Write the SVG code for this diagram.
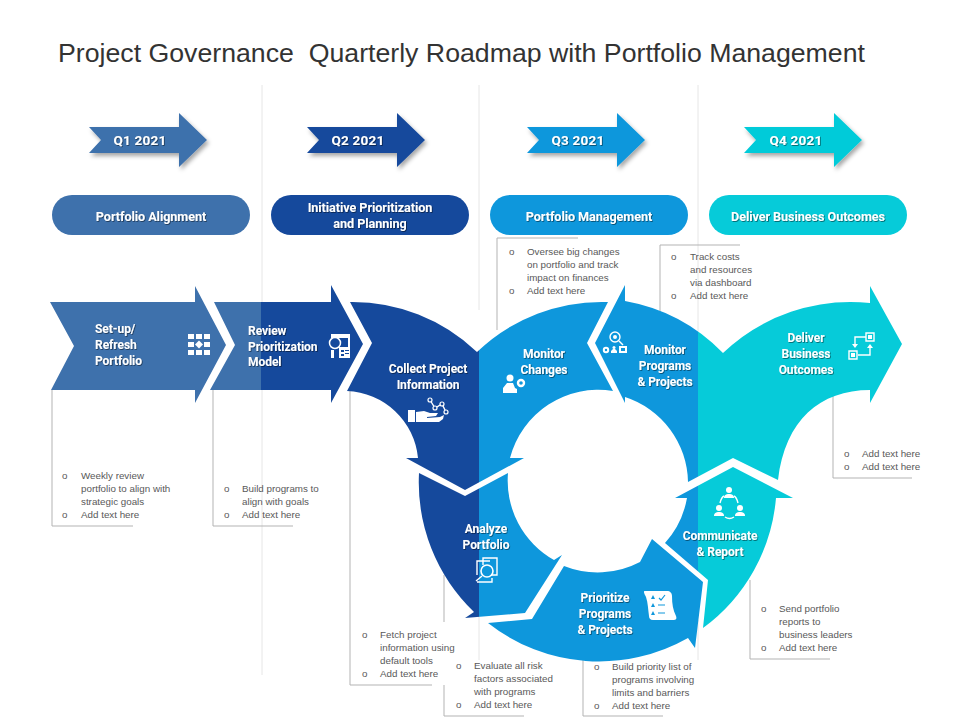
<svg xmlns="http://www.w3.org/2000/svg" width="960" height="720" viewBox="0 0 960 720">
<style>
.title{font:26.7px "Liberation Sans",Arial,sans-serif;fill:#333;white-space:pre}
.lb{font:bold 12px "Roboto","Liberation Sans",sans-serif;fill:#fff;filter:url(#ts);letter-spacing:-.05px}
.m{text-anchor:middle}
.q{font-size:13.5px;letter-spacing:.2px}
.p{font-size:12.6px}
.b{font:9.8px "Liberation Sans",Arial,sans-serif;fill:#595959}
.g{stroke:#b3b3b3;stroke-width:1;fill:none}
.v{stroke:#e6e6e6;stroke-width:1;fill:none}
.w{fill:#fff}
.wl{fill:none;stroke:#fff;stroke-width:1.4}
</style>
<defs>
<filter id="ts" x="-10%" y="-20%" width="120%" height="150%"><feDropShadow dx=".8" dy=".8" stdDeviation=".5" flood-color="#000" flood-opacity=".55"/></filter>
<filter id="as" x="-10%" y="-15%" width="125%" height="135%"><feDropShadow dx="2" dy="3" stdDeviation="2" flood-color="#000" flood-opacity=".35"/></filter>
<linearGradient id="s261" gradientUnits="userSpaceOnUse" x1="0" x2="960" y1="0" y2="0"><stop offset=".2719" stop-color="#3E71AC"/><stop offset=".2719" stop-color="#15499C"/></linearGradient>
<linearGradient id="s479" gradientUnits="userSpaceOnUse" x1="0" x2="960" y1="0" y2="0"><stop offset=".499" stop-color="#15499C"/><stop offset=".499" stop-color="#0E97DC"/></linearGradient>
<linearGradient id="s698" gradientUnits="userSpaceOnUse" x1="0" x2="960" y1="0" y2="0"><stop offset=".727" stop-color="#0E97DC"/><stop offset=".727" stop-color="#06CBD9"/></linearGradient>
<path id="qa" d="M0 14 L12 27 L0 40 L90 40 L90 54 L118 27 L90 0 L90 14 Z"/>
</defs>
<rect width="960" height="720" fill="#fff"/>
<text class="title" x="58" y="62">Project Governance  Quarterly Roadmap with Portfolio Management</text>

<g id="connectors">
<path class="v" d="M262 85V675M479 85V310M479 612V660M698 85V360M698 620V660"/>
<path class="g" d="M52 390V526H133"/>
<path class="g" d="M213 390V526H293"/>
<path class="g" d="M350 388V685H432"/>
<path class="g" d="M444 575V622M444 685V716H524"/>
<path class="g" d="M583 660V716H663"/>
<path class="g" d="M750 580V659H830"/>
<path class="g" d="M833 392V478H912"/>
<path class="g" d="M497 330V238H578"/>
<path class="g" d="M660 312V245H740"/>
</g>

<g id="q1"><use href="#qa" x="89" y="113" fill="#3E71AC" filter="url(#as)"/><text class="lb q m" x="140" y="145">Q1 2021</text></g>
<g id="q2"><use href="#qa" x="307" y="113" fill="#15499C" filter="url(#as)"/><text class="lb q m" x="358" y="145">Q2 2021</text></g>
<g id="q3"><use href="#qa" x="527" y="113" fill="#0E97DC" filter="url(#as)"/><text class="lb q m" x="578" y="145">Q3 2021</text></g>
<g id="q4"><use href="#qa" x="744" y="113" fill="#06CBD9" filter="url(#as)"/><text class="lb q m" x="796" y="145">Q4 2021</text></g>

<g id="pill1"><rect x="52" y="195" width="198" height="40" rx="20" fill="#3E71AC"/><text class="lb p m" x="151" y="221">Portfolio Alignment</text></g>
<g id="pill2"><rect x="271" y="195" width="198" height="40" rx="20" fill="#15499C"/><text class="lb p m" x="370" y="212">Initiative Prioritization</text><text class="lb p m" x="370" y="228">and Planning</text></g>
<g id="pill3"><rect x="490" y="195" width="198" height="40" rx="20" fill="#0E97DC"/><text class="lb p m" x="589" y="221">Portfolio Management</text></g>
<g id="pill4"><rect x="709" y="195" width="198" height="40" rx="20" fill="#06CBD9"/><text class="lb p m" x="808" y="221">Deliver Business Outcomes</text></g>

<g id="setup">
<path fill="#3E71AC" d="M50 302H195V286L226 345L195 403V390H51L74 346Z"/>
<text class="lb" x="95" y="333">Set-up/</text><text class="lb" x="95" y="349">Refresh</text><text class="lb" x="95" y="365">Portfolio</text>
<path class="w" d="M188 334h6v5h-6zM196 334h6v5h-6zM204 334h6v5h-6zM188 342h6v5h-6zM204 342h6v5h-6zM188 350h6v5h-6zM196 350h6v5h-6zM204 350h6v5h-6zM199 340.500l4 4-4 4-4-4z"/>
</g>
<g id="review">
<path fill="url(#s261)" d="M214 302H331V285L363 344L331 403V390H210L235 345Z"/>
<text class="lb" x="248" y="335">Review</text><text class="lb" x="248" y="351">Prioritization</text><text class="lb" x="248" y="366">Model</text>
<path class="w" d="M331 334H350V358H339V354H348V338H331Z"/><path class="w" d="M339 347h11v11h-11z"/><path d="M341 350h3v2h-3zM345 350h4v1h-4zM345 353h4v1h-4zM341 354h3v2h-3z" fill="#15499C"/>
<circle cx="335" cy="343" r="5.500" fill="#15499C" stroke="#fff" stroke-width="1.500"/><path class="w" d="M331 350h3v8h-3z"/>
</g>
<g id="collect-changes">
<path fill="url(#s479)" d="M350 302A180 180 0 0 1 477 352A180 180 0 0 1 608 302L587 343L613 391A91 91 0 0 0 510 458H524L465 490L406 458H418A74 74 0 0 0 347 391L372 343Z"/>
<text class="lb m" x="428" y="372.500">Collect Project</text><text class="lb m" x="428" y="388.500">Information</text>
<text class="lb m" x="544" y="357.500">Monitor</text><text class="lb m" x="544" y="373.500">Changes</text>
<path class="w" d="M408 410h7v12h-7zM416 412l8-1 6 2 8 0-2 3-9 1 0 1 13-1 4-2-1 4-4 3h-23z"/>
<path class="wl" d="M430 400L435 408L442 404L446 412"/>
<g fill="#15499C" stroke="#fff" stroke-width="1.200"><circle cx="430" cy="400" r="2"/><circle cx="435" cy="408" r="2"/><circle cx="442" cy="404" r="2"/><circle cx="446" cy="412" r="2"/></g>
<circle class="w" cx="510" cy="378" r="3.500"/><path class="w" d="M503 393V388l4-5h6l2 5 2 1v4z"/>
<circle cx="521" cy="383" r="3" fill="none" stroke="#fff" stroke-width="2.400"/>
</g>
<g id="monitor-deliver">
<path fill="url(#s698)" d="M595 343L625 285V301A181 181 0 0 1 723 353A185 185 0 0 1 870 303V286L902 344L870 403V390C820 390 785 420 778 480L733 458L688 482A91 91 0 0 0 625 397V403Z"/>
<text class="lb m" x="665" y="354">Monitor</text><text class="lb m" x="665" y="370">Programs</text><text class="lb m" x="665" y="386">&amp; Projects</text>
<text class="lb m" x="806" y="342">Deliver</text><text class="lb m" x="806" y="358">Business</text><text class="lb m" x="806" y="374">Outcomes</text>
<circle class="wl" cx="615" cy="337" r="5"/><circle class="w" cx="615" cy="337" r="2"/><path class="wl" d="M619 341L623 345" stroke-width="2"/>
<circle cx="606" cy="350" r="2.200" fill="none" stroke="#fff" stroke-width="2"/><circle class="w" cx="614" cy="347.500" r="1.500"/><path class="w" d="M611 353v-2l2-2h2l2 2v2zM619 346h8v7h-8z"/>
<path d="M621 348h4v3h-4z" fill="#0E97DC"/>
<path class="wl" d="M866 333h8v8h-8zM849 351h8v8h-8zM866 337h-11v8M858 355h12v-8"/>
<path class="w" d="M852 344h6l-3 4zM867 348l3-4 3 4zM868 335h4v4h-4zM851 353h4v4h-4z"/>
</g>
<g id="analyze">
<path fill="url(#s479)" d="M419 473L465 496L508 473A91 91 0 0 0 554 560L562 555L525 613L465 618L474 612A180 180 0 0 1 419 473Z"/>
<text class="lb m" x="486" y="532.500">Analyze</text><text class="lb m" x="486" y="548.500">Portfolio</text>
<path class="wl" d="M483 565V558H497V575H491M477 575V561H483M477 561H490M477 582H492V578" stroke-width="1"/>
<circle cx="487" cy="571" r="6" fill="none" stroke="#fff" stroke-width="1.600"/><path class="wl" d="M482 576L476 581" stroke-width="2.400"/>
</g>
<g id="prioritize">
<path fill="#0E97DC" d="M488 623L532 619L564 566A91 91 0 0 0 640 562L652 539L703 582L695 648L688 638A180 180 0 0 1 488 623Z"/>
<text class="lb m" x="605" y="601.500">Prioritize</text><text class="lb m" x="605" y="617.500">Programs</text><text class="lb m" x="605" y="633.500">&amp; Projects</text>
<path class="w" d="M645 591h22c3 0 5 2 5 5 0 8 1 14 4 20 1 3 0 4-3 4h-20c-3 0-4-2-4-4-1-7-1-13-3-19-2-4-3-6-1-6z"/>
<path d="M653 595l2 4h-4zM653 603l2 4h-4zM653 611l2 4h-4z" fill="#0E97DC"/>
<path d="M659 598l2 2 4-5M658 605h7M658 613h7" fill="none" stroke="#0E97DC" stroke-width="1.200"/>
</g>
<g id="communicate">
<path fill="url(#s698)" d="M733 467L793 498H776A180 180 0 0 1 703 628L708 580L665 543A91 91 0 0 0 687 498H675Z"/>
<text class="lb m" x="720" y="539.500">Communicate</text><text class="lb m" x="720" y="555.500">&amp; Report</text>
<g class="w"><circle cx="729" cy="490" r="3"/><path d="M724 498c0-3 2-4 5-4s5 1 5 4z"/><circle cx="719" cy="508" r="3"/><path d="M714 516c0-3 2-4 5-4s5 1 5 4z"/><circle cx="740" cy="508" r="3"/><path d="M735 516c0-3 2-4 5-4s5 1 5 4z"/></g>
<path class="wl" d="M720 503C721 499 722 497 724 496M738 503C737 499 736 497 734 496M725 517C728 519 731 519 734 517"/>
</g>

<g id="notes">
<g class="b">
<text x="62" y="479">o</text><text x="81" y="479">Weekly review</text><text x="81" y="492">portfolio to align with</text><text x="81" y="505">strategic goals</text><text x="62" y="518">o</text><text x="81" y="518">Add text here</text>
<text x="224" y="492">o</text><text x="242" y="492">Build programs to</text><text x="242" y="505">align with goals</text><text x="224" y="518">o</text><text x="242" y="518">Add text here</text>
<text x="362" y="638">o</text><text x="380" y="638">Fetch project</text><text x="380" y="651">information using</text><text x="380" y="664">default tools</text><text x="362" y="677">o</text><text x="380" y="677">Add text here</text>
<text x="456" y="669">o</text><text x="474" y="669">Evaluate all risk</text><text x="474" y="682">factors associated</text><text x="474" y="695">with programs</text><text x="456" y="708">o</text><text x="474" y="708">Add text here</text>
<text x="594" y="670">o</text><text x="612" y="670">Build priority list of</text><text x="612" y="683">programs involving</text><text x="612" y="696">limits and barriers</text><text x="594" y="709">o</text><text x="612" y="709">Add text here</text>
<text x="761" y="612">o</text><text x="779" y="612">Send portfolio</text><text x="779" y="625">reports to</text><text x="779" y="638">business leaders</text><text x="761" y="651">o</text><text x="779" y="651">Add text here</text>
<text x="844" y="457">o</text><text x="862" y="457">Add text here</text><text x="844" y="470">o</text><text x="862" y="470">Add text here</text>
<text x="509" y="255">o</text><text x="527" y="255">Oversee big changes</text><text x="527" y="268">on portfolio and track</text><text x="527" y="281">impact on finances</text><text x="509" y="294">o</text><text x="527" y="294">Add text here</text>
<text x="671" y="260">o</text><text x="690" y="260">Track costs</text><text x="690" y="273">and resources</text><text x="690" y="286">via dashboard</text><text x="671" y="299">o</text><text x="690" y="299">Add text here</text>
</g>
</g>
</svg>
